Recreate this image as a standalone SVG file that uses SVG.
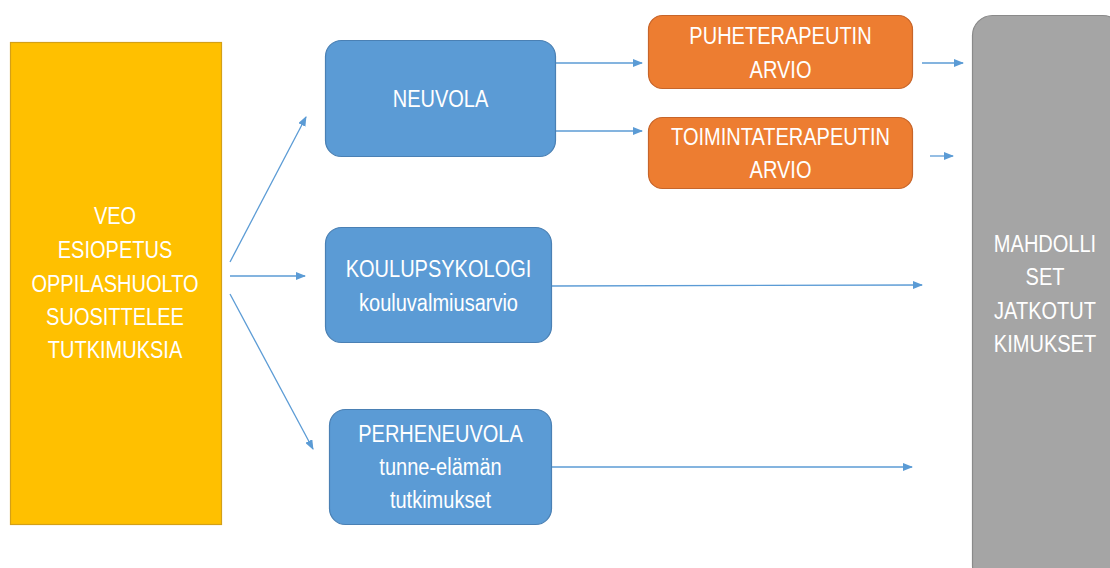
<svg xmlns="http://www.w3.org/2000/svg" width="1110" height="568" viewBox="0 0 1110 568">
<defs>
<style>
.t{font-family:"Liberation Sans",Arial,sans-serif;font-size:23px;fill:#ffffff;text-anchor:middle}
.blue{fill:#5B9BD5;stroke:#4A80B4;stroke-width:1.2}
.orange{fill:#ED7D31;stroke:#C7652A;stroke-width:1.2}
.c{stroke:#5B9BD5;stroke-width:1.3;fill:none;marker-end:url(#ah)}
</style>
<marker id="ah" markerUnits="userSpaceOnUse" markerWidth="10" markerHeight="8" refX="9" refY="4" orient="auto">
<path d="M0,0 L10,4 L0,8 Z" fill="#5B9BD5"/>
</marker>
</defs>
<rect width="1110" height="568" fill="#ffffff"/>
<g id="connectors">
<line class="c" x1="230" y1="262" x2="306" y2="117"/>
<line class="c" x1="230" y1="276" x2="305" y2="276"/>
<line class="c" x1="230" y1="294" x2="313" y2="449"/>
<line class="c" x1="556" y1="63" x2="642" y2="63"/>
<line class="c" x1="556" y1="131" x2="642" y2="131"/>
<line class="c" x1="922" y1="63" x2="963" y2="63"/>
<line class="c" x1="930" y1="156" x2="953" y2="156"/>
<line class="c" x1="552" y1="286" x2="922" y2="285"/>
<line class="c" x1="552" y1="467" x2="912" y2="467"/>
</g>
<g id="veo">
<rect x="10.5" y="42.5" width="211" height="482" fill="#FFC000" stroke="#D4A017" stroke-width="1.2"/>
<text class="t" transform="translate(115,224) scale(0.87,1)">VEO</text>
<text class="t" transform="translate(115,258) scale(0.87,1)">ESIOPETUS</text>
<text class="t" transform="translate(115,292) scale(0.87,1)">OPPILASHUOLTO</text>
<text class="t" transform="translate(115,325) scale(0.87,1)">SUOSITTELEE</text>
<text class="t" transform="translate(115,358) scale(0.87,1)">TUTKIMUKSIA</text>
</g>
<g id="neuvola">
<rect class="blue" x="325.5" y="40.5" width="230" height="116" rx="16"/>
<text class="t" transform="translate(440.5,107) scale(0.87,1)">NEUVOLA</text>
</g>
<g id="koulupsykologi">
<rect class="blue" x="325.5" y="227.5" width="226" height="115" rx="16"/>
<text class="t" transform="translate(438.5,277) scale(0.87,1)">KOULUPSYKOLOGI</text>
<text class="t" transform="translate(438.5,311) scale(0.87,1)">kouluvalmiusarvio</text>
</g>
<g id="perheneuvola">
<rect class="blue" x="329.5" y="409.5" width="222" height="115" rx="16"/>
<text class="t" transform="translate(440.5,442) scale(0.87,1)">PERHENEUVOLA</text>
<text class="t" transform="translate(440.5,475) scale(0.87,1)">tunne-elämän</text>
<text class="t" transform="translate(440.5,508) scale(0.87,1)">tutkimukset</text>
</g>
<g id="puheterapeutin">
<rect class="orange" x="648.5" y="15.5" width="264" height="73" rx="14"/>
<text class="t" transform="translate(780.5,44) scale(0.87,1)">PUHETERAPEUTIN</text>
<text class="t" transform="translate(780.5,78) scale(0.87,1)">ARVIO</text>
</g>
<g id="toimintaterapeutin">
<rect class="orange" x="648.5" y="117.5" width="264" height="71" rx="14"/>
<text class="t" transform="translate(780.5,145) scale(0.87,1)">TOIMINTATERAPEUTIN</text>
<text class="t" transform="translate(780.5,178) scale(0.87,1)">ARVIO</text>
</g>
<g id="mahdolliset">
<rect x="972.5" y="15.5" width="150" height="570" rx="20" fill="#A5A5A5" stroke="#8A8A8A" stroke-width="1.2"/>
<text class="t" transform="translate(1045,252) scale(0.87,1)">MAHDOLLI</text>
<text class="t" transform="translate(1045,285) scale(0.87,1)">SET</text>
<text class="t" transform="translate(1045,319) scale(0.87,1)">JATKOTUT</text>
<text class="t" transform="translate(1045,352) scale(0.87,1)">KIMUKSET</text>
</g>
</svg>
